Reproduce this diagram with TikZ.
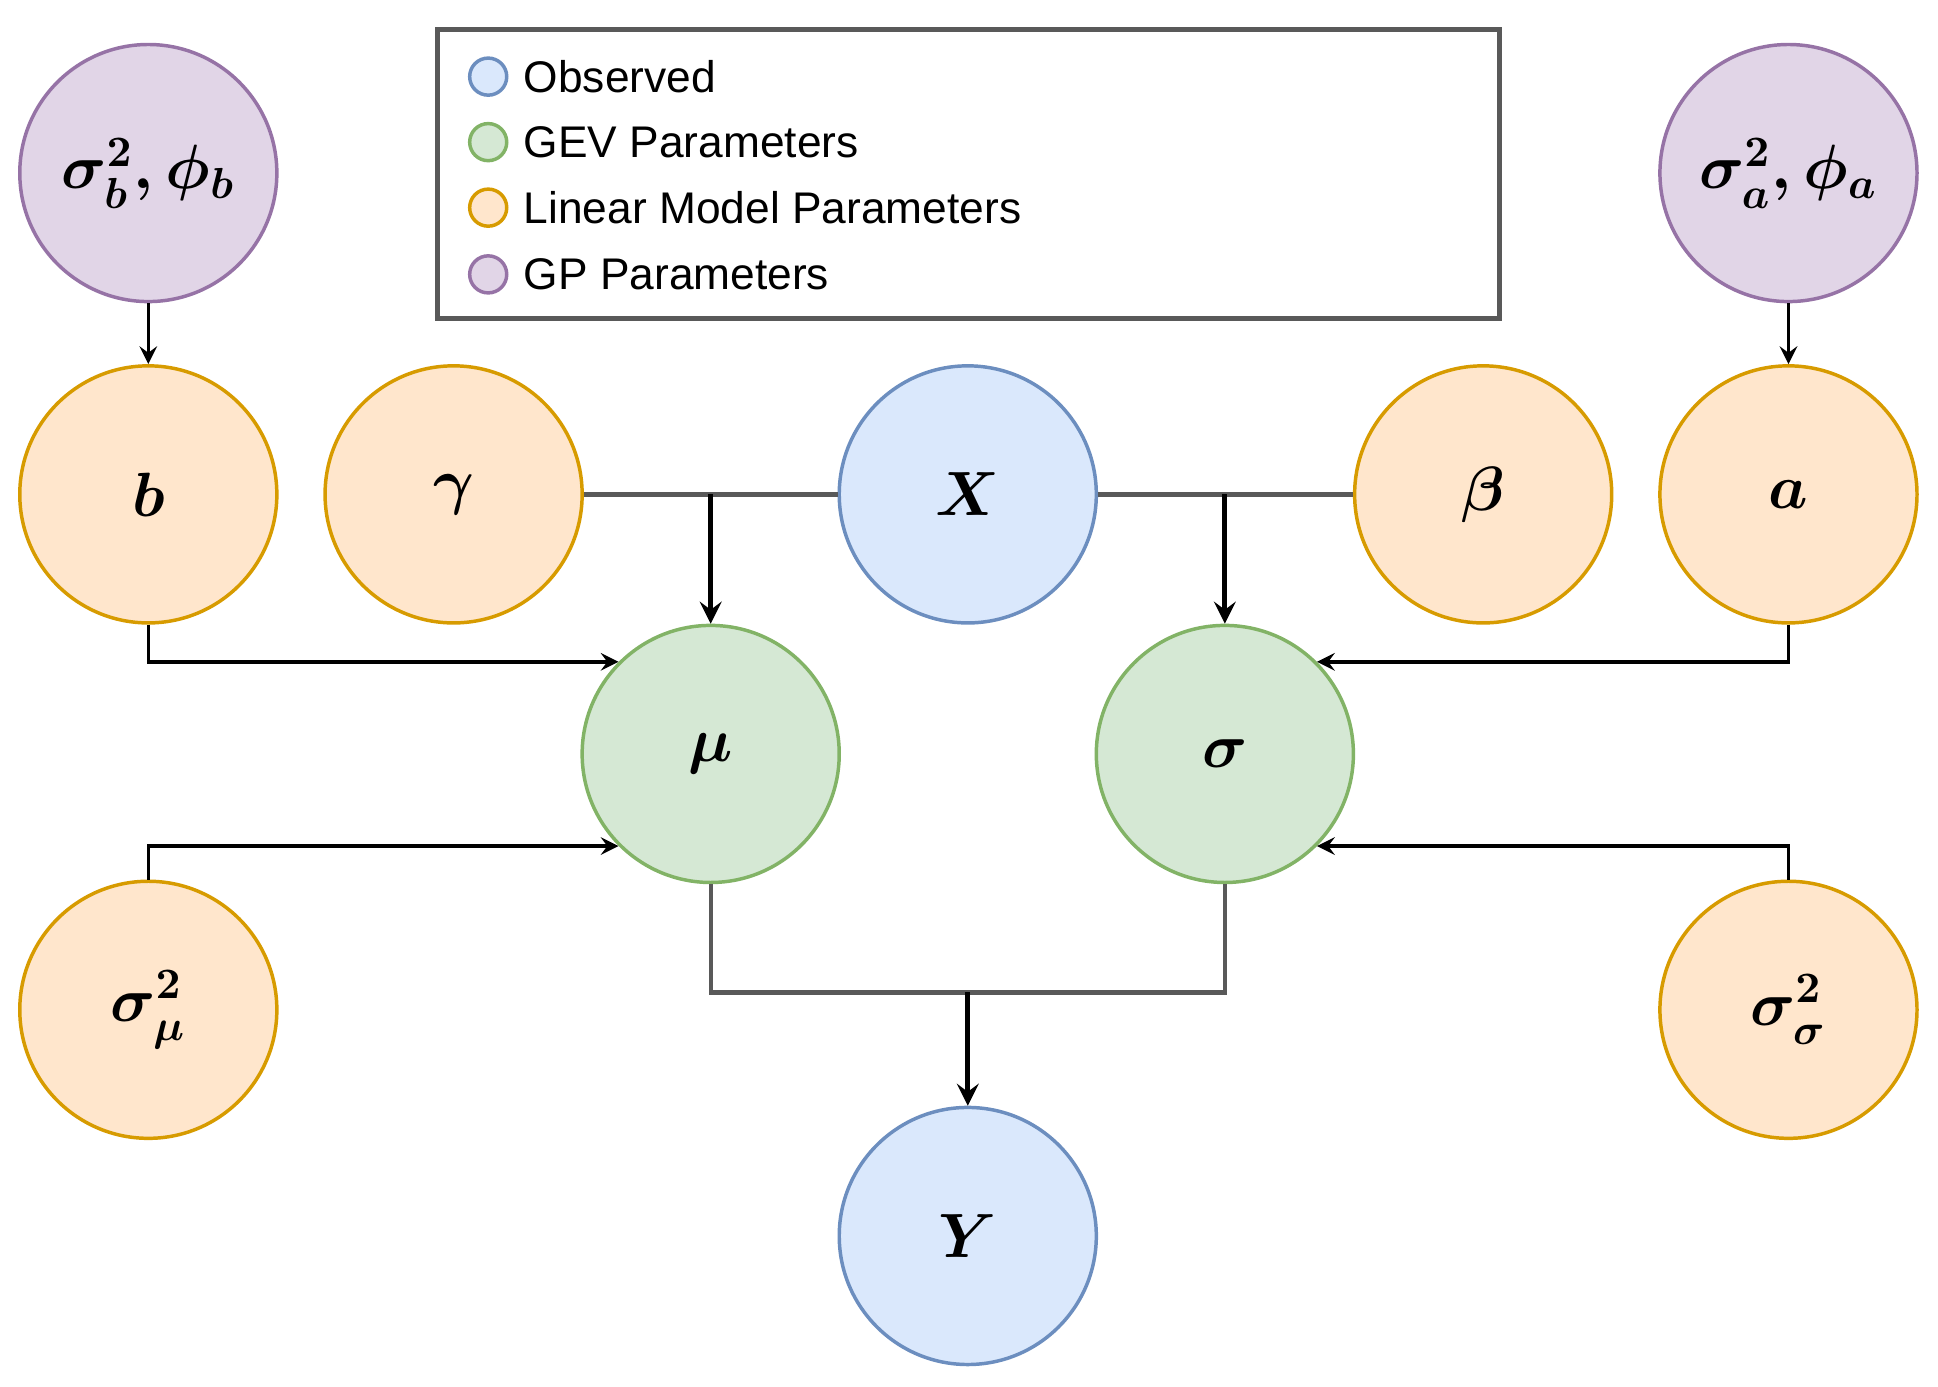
\documentclass[tikz,border=0pt]{standalone}
\usepackage{amsmath}
\usepackage{fontspec}
\newfontfamily\legendfont{Liberation Sans}
\usepackage{tikz}
\usetikzlibrary{positioning, arrows}
\definecolor{gpfill}{HTML}{E1D5E7}\definecolor{gpdraw}{HTML}{9673A6}
\definecolor{lmfill}{HTML}{FFE6CC}\definecolor{lmdraw}{HTML}{D79B00}
\definecolor{gevfill}{HTML}{D5E8D4}\definecolor{gevdraw}{HTML}{82B366}
\definecolor{obsfill}{HTML}{DAE8FC}\definecolor{obsdraw}{HTML}{6C8EBF}
\tikzset{
>=stealth, % arrow heads
var/.style={circle, minimum size=2.08cm, inner sep=0pt, font=\Large\boldmath, thick},
gp/.style={var, draw=gpdraw, fill=gpfill},
lm/.style={var, draw=lmdraw, fill=lmfill},
gev/.style={var, draw=gevdraw, fill=gevfill},
obs/.style={var, draw=obsdraw, fill=obsfill},
key/.style={circle, minimum size=0.3cm, inner sep=0pt, thick},
keytext/.style={right=0cm of #1, font=\legendfont\fontsize{10.2}{12}\selectfont},
wire/.style={draw=black!65, line width=1pt},
}
\begin{document}
\begin{tikzpicture}
        \useasboundingbox (0,0) rectangle (15.68,11.22);
        % legend
        \node[draw=black!65, line width=1.2pt, minimum width=8.59cm, minimum height=2.34cm] at (7.835,9.81) (legend) {};
        \node[key, draw=obsdraw, fill=obsfill] at (3.95,10.60) (k1) {};
        \node[key, draw=gevdraw, fill=gevfill] at (3.95,10.07) (k2) {};
        \node[key, draw=lmdraw, fill=lmfill] at (3.95,9.54) (k3) {};
        \node[key, draw=gpdraw, fill=gpfill] at (3.95,9.00) (k4) {};
        \node[keytext=k1] {Observed};
        \node[keytext=k2] {GEV Parameters};
        \node[keytext=k3] {Linear Model Parameters};
        \node[keytext=k4] {GP Parameters};
        % variables
        \node[gp] at (1.20,9.82) (sb) {$\sigma_b^2,\phi_b$};
        \node[gp] at (14.47,9.82) (sa) {$\sigma_a^2,\phi_a$};
        \node[lm] at (1.20,7.22) (b) {$b$};
        \node[lm] at (3.67,7.22) (gam) {$\gamma$};
        \node[obs] at (7.83,7.22) (X) {$X$};
        \node[lm] at (12.00,7.22) (bet) {$\beta$};
        \node[lm] at (14.47,7.22) (a) {$a$};
        \node[gev] at (5.75,5.12) (mu) {$\mu$};
        \node[gev] at (9.91,5.12) (sig) {$\sigma$};
        \node[lm] at (1.20,3.05) (smu) {$\sigma_\mu^2$};
        \node[lm] at (14.47,3.05) (ssig) {$\sigma_\sigma^2$};
        \node[obs] at (7.83,1.22) (Y) {$Y$};
        \coordinate (join) at (7.83,3.19);
        % connectors
        \draw[wire] (gam) -- (X) -- (bet);
        \draw[->, line width=1.2pt] (mu.north |- X) -- (mu);
        \draw[->, line width=1.2pt] (sig.north |- X) -- (sig);
        \draw[->, thick] (sb) -- (b);
        \draw[->, thick] (sa) -- (a);
        \draw[->, thick] (b) |- (mu.north west);
        \draw[->, thick] (smu) |- (mu.south west);
        \draw[->, thick] (a) |- (sig.north east);
        \draw[->, thick] (ssig) |- (sig.south east);
        \draw[wire] (mu) |- (join) -| (sig);
        \draw[->, line width=1.2pt] (join) -- (Y);
    \end{tikzpicture}
\end{document}
